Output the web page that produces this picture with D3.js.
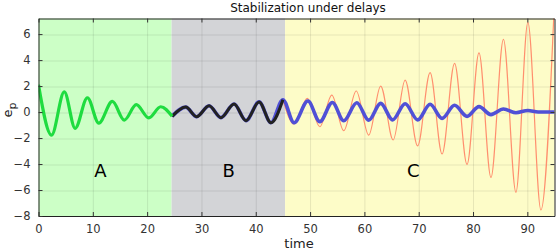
<!DOCTYPE html>
<html>
<head>
<meta charset="utf-8">
<script src="https://cdn.jsdelivr.net/npm/d3@7"></script>
<style>
  body { margin: 0; background: #fff; }
  svg { display: block; font-family: "DejaVu Sans", sans-serif; }
</style>
</head>
<body>
<svg width="556" height="252"></svg>
<script>
// extrema (time, e_p)
var tA = [0, 2.4, 4.75, 6.75, 9.0, 11.1, 13.6, 15.8, 18.0, 20.3, 22.5, 24.6];
var eA = [2.1, -1.77, 1.55, -1.25, 1.1, -0.85, 0.82, -0.62, 0.57, -0.45, 0.41, -0.33];

var tB = [24.6, 27.1, 29.1, 31.4, 33.6, 36.0, 38.2, 40.6, 42.8, 45.0];
var eB = [-0.33, 0.38, -0.36, 0.48, -0.43, 0.62, -0.66, 0.78, -0.82, 0.95];

var tC = [45.0, 47.05, 49.6, 51.8, 54.1, 56.2, 58.6, 60.8, 63.0, 65.2, 67.5, 69.8, 72.1, 74.3, 76.6, 78.9, 81.1, 83.3, 85.6, 87.9, 90.1, 92.0, 95.0];
var eC = [0.95, -0.82, 0.85, -0.74, 0.74, -0.67, 0.72, -0.62, 0.67, -0.6, 0.64, -0.6, 0.6, -0.49, 0.52, -0.33, 0.42, -0.2, 0.23, -0.05, 0.12, 0.0, 0.0];

var tOpen = [45.0, 47.05, 49.5, 51.8, 54.0, 56.2, 58.5, 60.8, 63.0, 65.3, 67.5, 69.8, 72.1, 74.3, 76.6, 78.9, 81.1, 83.3, 85.6, 87.9, 90.1, 92.5, 95.0];
var eOpen = [0.95, -0.92, 1.05, -1.13, 1.31, -1.44, 1.62, -1.77, 2.0, -2.15, 2.46, -2.6, 3.03, -3.23, 3.74, -4.03, 4.56, -5.03, 5.59, -6.18, 6.9, -7.54, 8.6];

var regions = [[0, 24.5], [24.5, 45.4], [45.4, 95]];
var regionNames = ["A", "B", "C"];
var xTicks = [0, 10, 20, 30, 40, 50, 60, 70, 80, 90];
var yTicks = [-8, -6, -4, -2, 0, 2, 4, 6];

var svg = d3.select("svg"),
    margin = {top: 18.5, right: 1.5, bottom: 36, left: 38.5},
    width = +svg.attr("width") - margin.left - margin.right,
    height = +svg.attr("height") - margin.top - margin.bottom;

var x = d3.scaleLinear().domain([0, 95]).range([0, width]),
    y = d3.scaleLinear().domain([-8, 7.2]).range([height, 0]);

var g = svg.append("g")
    .attr("transform", "translate(" + margin.left + "," + margin.top + ")");

g.append("clipPath").attr("id", "clip")
  .append("rect").attr("width", width).attr("height", height);

// shaded regions
var fills = ["#ccffc6", "#d3d4d7", "#fdfcc8"];
g.selectAll(".region")
    .data(regions)
    .enter().append("rect")
    .attr("x", function(d) { return x(d[0]); })
    .attr("width", function(d) { return x(d[1]) - x(d[0]); })
    .attr("y", 0)
    .attr("height", height)
    .style("fill", function(d, i) { return fills[i]; });

// grid
g.selectAll(".vgrid")
    .data(xTicks.slice(1))
    .enter().append("line")
    .attr("x1", function(d) { return x(d) + 0.5; })
    .attr("x2", function(d) { return x(d) + 0.5; })
    .attr("y1", 0).attr("y2", height)
    .style("stroke", "rgba(0,0,0,0.09)");
g.selectAll(".hgrid")
    .data(yTicks.slice(1))
    .enter().append("line")
    .attr("y1", function(d) { return Math.round(y(d)) + 0.5; })
    .attr("y2", function(d) { return Math.round(y(d)) + 0.5; })
    .attr("x1", 0).attr("x2", width)
    .style("stroke", "rgba(0,0,0,0.09)");

var line = d3.line()
    .x(function(d) { return x(d[0]); })
    .y(function(d) { return y(d[1]); })
    .curve(d3.curveMonotoneX);

function pts(t, e) { return t.map(function(v, i) { return [v, e[i]]; }); }

var lines = g.append("g").attr("clip-path", "url(#clip)");

lines.append("path")
    .attr("d", line(pts(tOpen, eOpen)))
    .style("fill", "none").style("stroke", "#ff8f6e").style("stroke-width", 1.2);

lines.append("path")
    .attr("d", line(pts(tB, eB).concat(pts(tC, eC).slice(1))))
    .style("fill", "none").style("stroke", "#5050d6").style("stroke-width", 3.6);

lines.append("path")
    .attr("d", line(pts(tB, eB)))
    .style("fill", "none").style("stroke", "#222").style("stroke-width", 3);

lines.append("path")
    .attr("d", line(pts(tA, eA)))
    .style("fill", "none").style("stroke", "#1fdc40").style("stroke-width", 3.2);

// region letters
var letterT = [11.4, 35.0, 69.0];
g.selectAll(".letter")
    .data(regionNames)
    .enter().append("text")
    .attr("x", function(d, i) { return x(letterT[i]); })
    .attr("y", y(-4.98))
    .style("text-anchor", "middle")
    .style("font-size", "18px")
    .style("fill", "#000")
    .text(function(d) { return d; });

// axes with inward ticks on all sides
var xb = g.append("g")
    .attr("transform", "translate(0," + height + ")")
    .call(d3.axisBottom(x).tickValues(xTicks).tickSizeInner(-4).tickSizeOuter(0).tickPadding(9));
var yl = g.append("g")
    .call(d3.axisLeft(y).tickValues(yTicks).tickSizeInner(-4).tickSizeOuter(0).tickPadding(8));
var xt = g.append("g")
    .call(d3.axisTop(x).tickValues(xTicks).tickSizeInner(-4).tickSizeOuter(0).tickFormat(""));
var yr = g.append("g")
    .attr("transform", "translate(" + width + ",0)")
    .call(d3.axisRight(y).tickValues(yTicks).tickSizeInner(-4).tickSizeOuter(0).tickFormat(""));

[xb, yl, xt, yr].forEach(function(a) {
    a.selectAll("path").style("stroke", "#222");
    a.selectAll("line").style("stroke", "#333");
    a.selectAll("text").style("font-family", "DejaVu Sans").style("font-size", "11.5px").style("fill", "#333");
});

// title and axis labels
svg.append("text")
    .attr("x", 308).attr("y", 12)
    .style("text-anchor", "middle")
    .style("font-size", "12px")
    .style("fill", "#111")
    .text("Stabilization under delays");

svg.append("text")
    .attr("x", 299).attr("y", 248)
    .style("text-anchor", "middle")
    .style("font-size", "13px")
    .style("fill", "#222")
    .text("time");

var yLab = svg.append("text")
    .attr("transform", "translate(12,110) rotate(-90)")
    .style("text-anchor", "middle")
    .style("font-size", "13px")
    .style("fill", "#222");
yLab.append("tspan").text("e");
yLab.append("tspan").attr("dy", 4).style("font-size", "11px").text("p");
</script>
</body>
</html>
